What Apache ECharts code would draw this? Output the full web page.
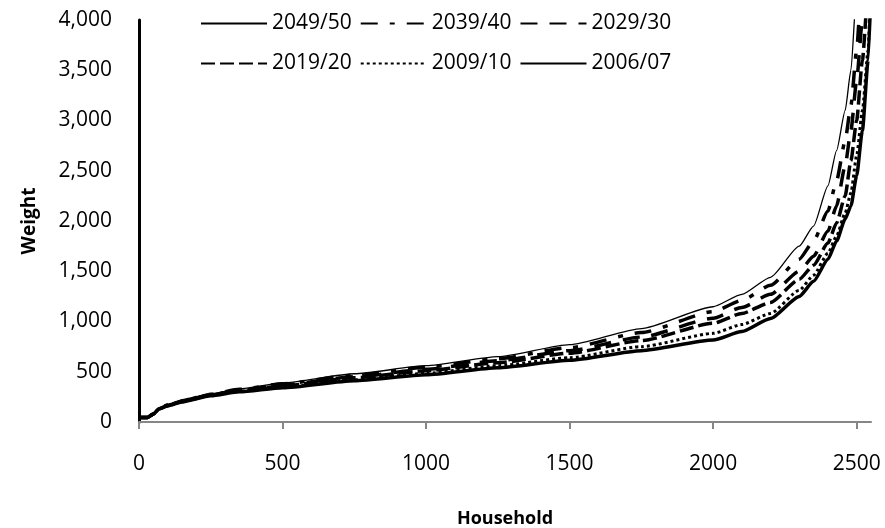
<!DOCTYPE html>
<html>
<head>
<meta charset="utf-8">
<script src="https://cdn.jsdelivr.net/npm/echarts@6/dist/echarts.min.js"></script>
<style>html,body{margin:0;padding:0;background:#fff;}#c{width:885px;height:528px;}</style>
</head>
<body>
<div id="c"></div>
<script>
var households = [0, 30, 50, 70, 100, 150, 250, 350, 500, 750, 1000, 1250, 1500, 1750, 2000, 2100, 2200, 2300, 2350, 2400, 2430, 2460, 2480, 2500, 2520, 2540, 2550];
var w2049 = [45, 45, 80, 135, 170, 215, 280, 330, 390, 480, 560, 650, 770, 930, 1147, 1270, 1440, 1750, 1950, 2350, 2700, 3100, 3500, 4300, 5000, 5800, 6500];
var w2039 = [45, 45, 80, 134, 168, 212, 276, 325, 380, 465, 545, 630, 740, 890, 1098, 1210, 1360, 1620, 1800, 2100, 2400, 2800, 3150, 3700, 4500, 5200, 6000];
var w2029 = [45, 45, 80, 133, 166, 208, 272, 318, 370, 450, 525, 610, 710, 845, 1032, 1140, 1270, 1500, 1650, 1900, 2150, 2550, 2900, 3400, 4000, 4800, 5500];
var w2019 = [45, 45, 80, 132, 164, 205, 268, 312, 360, 440, 510, 590, 685, 810, 982, 1080, 1190, 1420, 1560, 1780, 1980, 2250, 2600, 3000, 3600, 4300, 5000];
var w2009 = [45, 45, 80, 131, 162, 202, 264, 305, 345, 420, 485, 560, 640, 750, 882, 970, 1080, 1310, 1460, 1680, 1850, 2080, 2280, 2650, 3100, 3700, 4500];
var w2006 = [45, 45, 80, 130, 160, 200, 260, 300, 340, 410, 470, 540, 615, 710, 816, 900, 1030, 1250, 1400, 1620, 1800, 2020, 2150, 2450, 2900, 3600, 4300];
var xTicks = [0, 500, 1000, 1500, 2000, 2500];
var yTicks = [0, 500, 1000, 1500, 2000, 2500, 3000, 3500, 4000];

function pairs(ys){ return households.map(function(x,i){ return [x, ys[i]]; }); }

var seriesDefs = [
  {name:'2049/50', data:w2049, ls:{width:1.3, type:'solid'}},
  {name:'2039/40', data:w2039, ls:{width:3.5, type:[17,12,5,12]}},
  {name:'2029/30', data:w2029, ls:{width:3.5, type:[17,12]}},
  {name:'2019/20', data:w2019, ls:{width:3.5, type:[14,5]}},
  {name:'2009/10', data:w2009, ls:{width:3, type:[3,3]}},
  {name:'2006/07', data:w2006, ls:{width:3.5, type:'solid'}}
];
var FONT = 'Open Sans';
var chart = echarts.init(document.getElementById('c'), null, {renderer:'canvas'});
function legendOf(top, names){
  return {
    left:195, top:top, data:names,
    orient:'horizontal', itemWidth:66, itemHeight:14, itemGap:8,
    textStyle:{fontFamily:FONT, fontSize:21, color:'#000'},
    itemStyle:{opacity:0, borderWidth:0},
    selectedMode:false
  };
}
chart.setOption({
  animation:false,
  backgroundColor:'#fff',
  grid:{left:139, right:14, top:20, bottom:106, containLabel:false, outerBoundsMode:'none'},
  legend:[
    legendOf(8, ['2049/50','2039/40','2029/30']),
    legendOf(48, ['2019/20','2009/10','2006/07'])
  ],
  xAxis:{
    type:'value', min:0, max:2550, interval:500,
    name:'Household', nameLocation:'middle', nameGap:88,
    nameTextStyle:{fontFamily:FONT, fontSize:18, fontWeight:'bold', color:'#000'},
    axisLine:{show:true, lineStyle:{color:'#868686', width:2}},
    axisTick:{show:true, customValues:xTicks, length:7, lineStyle:{color:'#868686', width:2}},
    axisLabel:{customValues:xTicks, fontFamily:FONT, fontSize:21, color:'#000', margin:32,
      formatter:function(v){ return String(v); }},
    splitLine:{show:false}
  },
  yAxis:{
    type:'value', min:0, max:4000, interval:500,
    name:'Weight', nameLocation:'middle', nameGap:100,
    nameTextStyle:{fontFamily:FONT, fontSize:19, fontWeight:'bold', color:'#000'},
    axisLine:{show:true, lineStyle:{color:'#000', width:3}},
    axisTick:{show:false},
    axisLabel:{customValues:yTicks, fontFamily:FONT, fontSize:21, color:'#000', margin:27,
      formatter:function(v){ return v.toLocaleString('en-US'); }},
    splitLine:{show:false}
  },
  series: seriesDefs.map(function(s){
    return {
      name:s.name, type:'line', data:pairs(s.data), showSymbol:false, symbol:'none',
      smooth:0.2, smoothMonotone:'x', clip:true,
      lineStyle:Object.assign({color:'#000'}, s.ls),
      itemStyle:{color:'#000'}
    };
  })
});
</script>
</body>
</html>
